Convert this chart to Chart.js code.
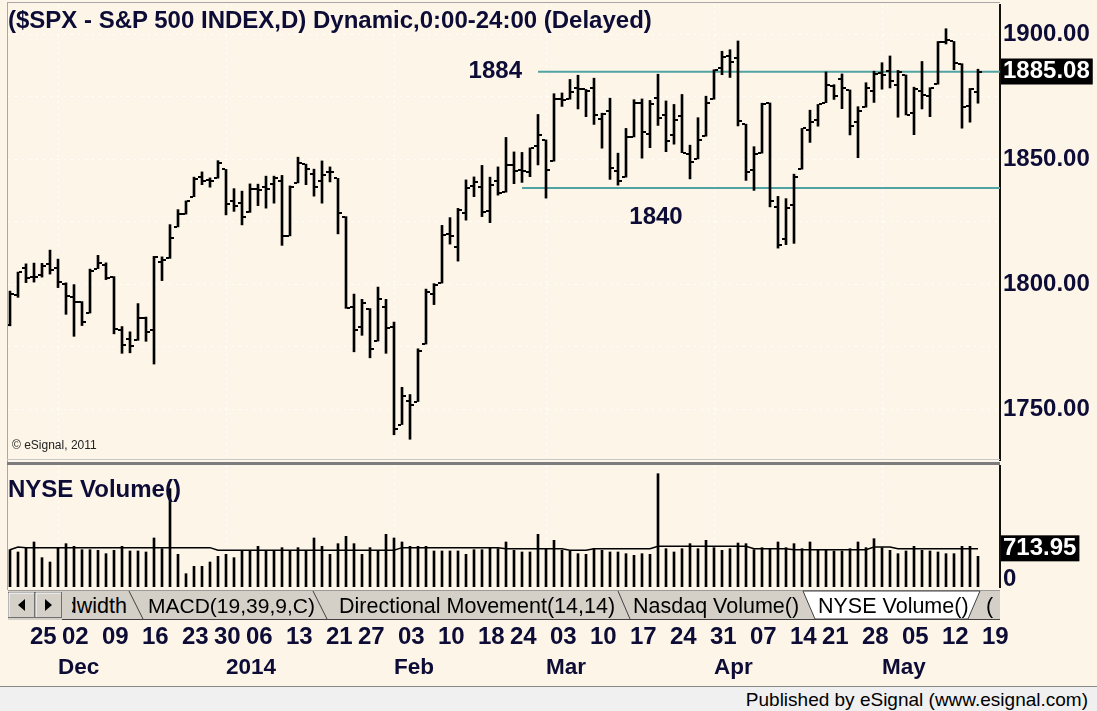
<!DOCTYPE html>
<html>
<head>
<meta charset="utf-8">
<title>$SPX - S&amp;P 500 INDEX daily</title>
<script src="https://cdn.jsdelivr.net/npm/chart.js@4.4.0/dist/chart.umd.min.js"></script>
<style>
  html, body { margin:0; padding:0; }
  body { width:1097px; height:711px; position:relative; overflow:hidden; background:#FDF6E8; font-family:"Liberation Sans", Arial, sans-serif; }
  canvas { position:absolute; left:0; }
  #priceCanvas { top:0; }
  #volCanvas { top:465px; }
  .txt { position:absolute; white-space:nowrap; color:#0c0c36; }
  #title { left:8px; top:6px; font-weight:bold; font-size:24px; }
  #copy { left:12px; top:438px; font-size:12px; color:#222; }
  #volTitle { left:8px; top:475px; font-weight:bold; font-size:24px; }
  #frameL { position:absolute; left:7px; top:2px; width:1px; height:588px; background:#a8a8a8; }
  #frameT { position:absolute; left:7px; top:2px; width:993px; height:1px; background:#a8a8a8; }
  #sepA { position:absolute; left:7px; top:459px; width:993px; height:1px; background:#c8c8c8; }
  #sepB { position:absolute; left:7px; top:462px; width:993px; height:3px; background:#7c7c7c; }
  #tabs { position:absolute; left:0; top:589px; }
  #footer { position:absolute; left:0; top:686px; width:1097px; height:25px; background:#F0F0F0; border-top:1px solid #8a8a8a; }
  #footer span { position:absolute; right:9px; top:2px; font-size:19px; color:#000; }
</style>
</head>
<body>
<canvas id="priceCanvas" width="1097" height="465"></canvas>
<canvas id="volCanvas" width="1097" height="221"></canvas>
<div id="frameL"></div><div id="frameT"></div><div id="sepA"></div><div id="sepB"></div>
<div class="txt" id="title">($SPX - S&amp;P 500 INDEX,D) Dynamic,0:00-24:00 (Delayed)</div>
<div class="txt" id="copy">© eSignal, 2011</div>
<div class="txt" id="volTitle">NYSE Volume()</div>
<svg id="tabs" width="1000" height="33" xmlns="http://www.w3.org/2000/svg" font-family="Liberation Sans, Arial, sans-serif">
  <defs>
    <clipPath id="tc"><rect x="8" y="0" width="992" height="33"/></clipPath>
    <clipPath id="tc1"><rect x="72" y="0" width="58" height="33"/></clipPath>
  </defs>
  <g clip-path="url(#tc)">
    <rect x="8" y="2" width="992" height="29" fill="#D4D0C8"/>
    <line x1="8" y1="1.5" x2="1000" y2="1.5" stroke="#9a9a9a"/>
    <line x1="62" y1="30.5" x2="1000" y2="30.5" stroke="#404040"/>
    <rect x="8.5" y="3.5" width="26" height="25" fill="#D4D0C8" stroke="#707070"/>
    <polyline points="9,28 9,4 34,4" fill="none" stroke="#fff"/>
    <polygon points="25,10 25,22 18,16" fill="#000"/>
    <rect x="35.5" y="3.5" width="26" height="25" fill="#D4D0C8" stroke="#707070"/>
    <polyline points="36,28 36,4 61,4" fill="none" stroke="#fff"/>
    <polygon points="45,10 45,22 52,16" fill="#000"/>
    <text x="127" y="24" font-size="21.5" fill="#000" text-anchor="end" clip-path="url(#tc1)">Bandwidth</text>
    <line x1="129" y1="2" x2="143" y2="30" stroke="#404040"/>
    <text x="148" y="24" font-size="21" fill="#000">MACD(19,39,9,C)</text>
    <line x1="313" y1="2" x2="327" y2="30" stroke="#404040"/>
    <text x="339" y="24" font-size="21.5" fill="#000">Directional Movement(14,14)</text>
    <line x1="618" y1="2" x2="630" y2="30" stroke="#404040"/>
    <text x="633" y="24" font-size="21.5" fill="#000">Nasdaq Volume()</text>
    <polygon points="803,2 815,30 968,30 980,2" fill="#fff" stroke="#404040"/>
    <text x="818" y="24" font-size="21.5" fill="#000">NYSE Volume()</text>
    <text x="986" y="24" font-size="21.5" fill="#000">(</text>
  </g>
</svg>
<div id="footer"><span>Published by eSignal (www.esignal.com)</span></div>
<script>
// ---------------- data ----------------
const dates = [
 '2013-11-21','2013-11-22','2013-11-25','2013-11-26','2013-11-27','2013-11-29',
 '2013-12-02','2013-12-03','2013-12-04','2013-12-05','2013-12-06',
 '2013-12-09','2013-12-10','2013-12-11','2013-12-12','2013-12-13',
 '2013-12-16','2013-12-17','2013-12-18','2013-12-19','2013-12-20',
 '2013-12-23','2013-12-24','2013-12-26','2013-12-27','2013-12-30','2013-12-31',
 '2014-01-02','2014-01-03','2014-01-06','2014-01-07','2014-01-08','2014-01-09','2014-01-10',
 '2014-01-13','2014-01-14','2014-01-15','2014-01-16','2014-01-17',
 '2014-01-21','2014-01-22','2014-01-23','2014-01-24',
 '2014-01-27','2014-01-28','2014-01-29','2014-01-30','2014-01-31',
 '2014-02-03','2014-02-04','2014-02-05','2014-02-06','2014-02-07',
 '2014-02-10','2014-02-11','2014-02-12','2014-02-13','2014-02-14',
 '2014-02-18','2014-02-19','2014-02-20','2014-02-21',
 '2014-02-24','2014-02-25','2014-02-26','2014-02-27','2014-02-28',
 '2014-03-03','2014-03-04','2014-03-05','2014-03-06','2014-03-07',
 '2014-03-10','2014-03-11','2014-03-12','2014-03-13','2014-03-14',
 '2014-03-17','2014-03-18','2014-03-19','2014-03-20','2014-03-21',
 '2014-03-24','2014-03-25','2014-03-26','2014-03-27','2014-03-28',
 '2014-03-31','2014-04-01','2014-04-02','2014-04-03','2014-04-04',
 '2014-04-07','2014-04-08','2014-04-09','2014-04-10','2014-04-11',
 '2014-04-14','2014-04-15','2014-04-16','2014-04-17',
 '2014-04-21','2014-04-22','2014-04-23','2014-04-24','2014-04-25',
 '2014-04-28','2014-04-29','2014-04-30','2014-05-01','2014-05-02',
 '2014-05-05','2014-05-06','2014-05-07','2014-05-08','2014-05-09',
 '2014-05-12','2014-05-13','2014-05-14','2014-05-15','2014-05-16',
 '2014-05-19'
];
const openP = [1783.5,1795.7,1806.3,1802.9,1803.5,1808.1,1806.6,1800.1,1794.8,1792.8,1788.4,1806.2,1807.5,1802.8,1781.7,1778.0,1777.5,1786.5,1781.5,1809.0,1810.4,1822.9,1828.0,1835.0,1843.0,1841.5,1842.6,1845.9,1833.2,1832.3,1828.7,1837.9,1839.0,1840.1,1841.3,1819.3,1840.5,1848.0,1844.2,1841.1,1844.7,1842.3,1827.0,1791.0,1783.0,1790.2,1777.2,1790.9,1782.7,1743.8,1753.4,1753.0,1776.0,1796.2,1800.5,1820.1,1814.8,1828.5,1839.3,1838.9,1829.2,1841.1,1836.8,1847.7,1845.8,1844.9,1855.1,1857.7,1849.2,1874.1,1874.2,1878.5,1877.9,1878.3,1866.2,1869.1,1845.1,1842.8,1858.9,1872.3,1860.1,1874.5,1867.7,1859.5,1867.1,1852.1,1850.1,1859.2,1874.0,1886.6,1891.4,1890.3,1863.9,1845.5,1852.6,1872.3,1830.7,1818.2,1831.5,1846.0,1861.7,1865.8,1872.6,1879.3,1882.0,1877.7,1865.0,1870.8,1877.1,1884.4,1885.3,1879.5,1883.7,1868.5,1877.4,1875.3,1880.0,1896.8,1897.1,1888.2,1871.2,1876.7];
const highP = [1797.2,1804.8,1808.1,1808.4,1808.3,1813.6,1810.0,1800.5,1799.8,1793.0,1806.0,1811.5,1808.5,1803.0,1783.0,1780.9,1792.2,1786.8,1811.1,1810.9,1823.8,1829.8,1833.3,1842.8,1844.9,1842.5,1849.4,1845.9,1838.2,1837.2,1840.1,1840.0,1843.2,1843.2,1843.5,1839.3,1850.8,1848.0,1846.0,1849.3,1846.9,1842.3,1827.0,1796.0,1793.9,1790.2,1798.8,1793.9,1784.8,1758.7,1755.8,1774.1,1798.0,1800.2,1823.5,1826.6,1830.3,1841.7,1842.9,1847.5,1842.8,1846.9,1858.7,1852.9,1852.7,1854.5,1867.9,1857.7,1876.2,1876.5,1881.9,1883.6,1877.9,1882.4,1868.4,1874.4,1852.4,1862.3,1873.8,1874.1,1873.5,1884.0,1873.3,1871.9,1875.9,1855.6,1866.6,1875.2,1885.8,1893.2,1893.8,1897.3,1864.0,1855.0,1872.4,1872.5,1835.1,1834.2,1844.0,1862.3,1869.6,1871.9,1884.9,1879.8,1884.1,1877.7,1871.0,1880.6,1885.2,1888.6,1891.3,1885.5,1883.7,1878.8,1889.1,1878.6,1897.1,1902.2,1897.1,1888.2,1878.3,1886.0];
const lowP = [1783.3,1794.7,1800.6,1800.8,1802.8,1804.0,1798.6,1787.9,1779.1,1783.4,1788.4,1806.2,1801.8,1780.1,1772.3,1772.5,1777.5,1777.1,1768.0,1801.4,1810.3,1822.9,1828.0,1835.0,1839.8,1838.8,1842.4,1827.7,1829.1,1823.7,1828.7,1831.4,1830.4,1832.4,1815.5,1819.3,1840.5,1839.8,1835.2,1832.4,1840.9,1820.1,1790.3,1772.9,1779.5,1770.5,1777.2,1772.3,1739.7,1743.8,1737.9,1753.0,1776.0,1791.8,1800.4,1816.0,1809.2,1825.6,1835.0,1827.0,1824.6,1835.6,1836.8,1840.2,1840.7,1843.0,1847.7,1834.4,1849.2,1871.1,1874.0,1870.1,1867.0,1863.9,1854.4,1841.9,1839.6,1842.8,1858.9,1850.4,1854.6,1863.5,1853.0,1856.0,1852.6,1842.1,1850.1,1859.2,1874.0,1883.8,1882.7,1863.3,1841.5,1837.5,1852.4,1830.9,1814.4,1815.8,1816.3,1846.0,1856.7,1863.2,1872.6,1873.9,1870.2,1859.7,1850.6,1870.8,1872.7,1878.0,1878.5,1866.8,1867.7,1859.8,1870.1,1867.0,1880.0,1896.1,1885.8,1862.4,1864.8,1872.4];
const closeP = [1795.9,1804.8,1802.5,1802.8,1807.2,1805.8,1800.9,1795.2,1792.8,1785.0,1805.1,1808.4,1802.6,1782.2,1775.5,1775.3,1786.5,1781.0,1810.7,1809.6,1818.3,1828.0,1833.3,1842.0,1841.4,1841.1,1848.4,1832.0,1831.4,1826.8,1837.9,1837.5,1838.1,1842.4,1819.2,1838.9,1848.4,1845.9,1838.7,1843.8,1844.9,1828.5,1790.3,1781.6,1792.5,1774.2,1794.2,1782.6,1741.9,1755.2,1751.6,1773.4,1797.0,1799.8,1819.8,1819.3,1829.8,1838.6,1840.8,1828.8,1839.8,1836.3,1847.6,1845.1,1845.2,1854.3,1859.5,1845.7,1873.9,1873.8,1877.0,1878.0,1877.2,1867.6,1868.2,1846.3,1841.1,1858.8,1872.3,1860.8,1872.0,1866.5,1857.4,1865.6,1852.6,1849.0,1857.6,1872.3,1885.5,1890.9,1888.8,1865.1,1845.0,1852.0,1872.2,1833.1,1815.7,1830.6,1843.0,1862.3,1864.9,1871.9,1879.6,1875.4,1878.6,1863.4,1869.4,1878.3,1884.0,1883.7,1881.1,1884.7,1867.7,1878.2,1875.6,1878.5,1896.7,1897.5,1888.5,1870.9,1877.9,1885.08];
const volume = [869,815,916,1048,683,582,916,1009,947,869,869,854,776,854,947,838,838,815,1141,892,2289,760,310,481,481,582,714,760,683,854,854,947,838,838,916,838,916,854,1141,947,760,1009,1180,1009,760,916,854,1226,1141,1048,947,947,947,838,838,838,838,760,869,869,916,892,
 1048,854,815,815,1226,892,1086,854,838,776,760,892,854,815,815,776,737,776,760,2638,892,815,892,1009,892,1086,916,854,892,1024,1009,869,916,892,1048,916,1009,892,1048,854,854,838,838,892,1048,916,1125,916,854,776,838,947,854,838,815,776,776,947,947,713.95];
const volumeAvg = [869,931,916,916,916,916,916,916,916,916,916,916,916,916,916,916,916,916,916,916,916,916,916,916,916,916,854,854,854,854,854,854,854,854,854,854,854,854,854,854,854,854,854,854,854,854,854,854,854,916,916,916,916,916,916,916,916,916,916,916,916,916,
 892,892,892,892,892,892,892,892,854,854,854,892,892,892,892,892,892,892,892,947,947,947,947,947,947,947,947,947,947,947,947,892,892,892,892,892,869,869,869,869,869,869,869,869,869,869,931,931,931,892,892,892,892,892,892,892,892,892,892,892];
const priceGrid = [1750,1775,1800,1825,1850,1875,1900];
const priceLabelStep = 50;
const dayTickDates = ['2013-11-25','2013-12-02','2013-12-09','2013-12-16','2013-12-23','2013-12-30','2014-01-06','2014-01-13','2014-01-21','2014-01-27','2014-02-03','2014-02-10','2014-02-18','2014-02-24','2014-03-03','2014-03-10','2014-03-17','2014-03-24','2014-03-31','2014-04-07','2014-04-14','2014-04-21','2014-04-28','2014-05-05','2014-05-12','2014-05-19'];
const dayTickLabels = ['25','02','09','16','23','30','06','13','21','27','03','10','18','24','03','10','17','24','31','07','14','21','28','05','12','19'];
const monthTickDates = ['2013-12-02','2014-01-02','2014-02-03','2014-03-03','2014-04-01','2014-05-01'];
const monthTickLabels = ['Dec','2014','Feb','Mar','Apr','May'];
const levelLabels = ['1884','1840'];
const levelValues = [1885.0, 1838.5];
const levelStartDates = ['2014-02-28','2014-02-26'];

// ---------------- helpers ----------------
const NAVY = '#0c0c36';
const GRID = 'rgba(255,255,255,0.95)';
const CLEAR = 'rgba(0,0,0,0)';
const FONT = 'Liberation Sans';
const idx = dates.map((d, i) => i);
const lastClose = closeP[closeP.length - 1];
const lastVol = volume[volume.length - 1];
const xMin = -0.25, xMax = 123.75;
const dayTickIdx = dayTickDates.map(d => dates.indexOf(d));
const monthTickIdx = monthTickDates.map(d => dates.indexOf(d));
function tickImg(side) {
  const c = document.createElement('canvas');
  c.width = 10; c.height = 2;
  const g = c.getContext('2d');
  g.fillStyle = '#000';
  if (side === 'open') g.fillRect(1, 0, 3, 2); else g.fillRect(6, 0, 3, 2);
  return c;
}
const fixY = s => { s.width = 97; s.paddingTop = 0; s.paddingBottom = 0; };

const levelText = {
  id: 'levelText',
  afterDatasetsDraw(chart) {
    const {ctx, scales: {x, y}} = chart;
    ctx.save();
    ctx.font = 'bold 24px "' + FONT + '"';
    ctx.fillStyle = NAVY;
    ctx.textBaseline = 'middle';
    ctx.textAlign = 'right';
    ctx.fillText(levelLabels[0], x.getPixelForValue(dates.indexOf(levelStartDates[0])) - 16, y.getPixelForValue(levelValues[0]));
    ctx.textAlign = 'center';
    ctx.fillText(levelLabels[1], x.getPixelForValue(dates.indexOf(levelStartDates[1])) + 134, y.getPixelForValue(levelValues[1]) + 29);
    ctx.restore();
  }
};

// ---------------- price chart ----------------
new Chart(document.getElementById('priceCanvas'), {
  type: 'bar',
  data: {
    datasets: [
      { type: 'bar', data: idx.map(i => ({x: i, y: [lowP[i], highP[i]]})), backgroundColor: '#000', barThickness: 2, order: 3 },
      { type: 'line', data: idx.map(i => ({x: i, y: openP[i]})), showLine: false, pointStyle: tickImg('open'), pointRadius: 3, order: 2 },
      { type: 'line', data: idx.map(i => ({x: i, y: closeP[i]})), showLine: false, pointStyle: tickImg('close'), pointRadius: 3, order: 2 },
      ...levelValues.map((v, k) => ({ type: 'line', data: [{x: dates.indexOf(levelStartDates[k]), y: v}, {x: xMax, y: v}], borderColor: '#4fa3a3', borderWidth: 2, pointRadius: 0, order: 4 }))
    ]
  },
  options: {
    responsive: false, animation: false, events: [],
    layout: { padding: { left: 8, top: 3, right: 0, bottom: 3 } },
    plugins: { legend: { display: false }, tooltip: { enabled: false } },
    scales: {
      x: {
        type: 'linear', min: xMin, max: xMax, offset: false,
        grid: { offset: false, color: GRID, drawTicks: false, lineWidth: 1 },
        border: { display: false, dash: [2, 4] },
        ticks: { display: false },
        afterBuildTicks: s => { s.ticks = monthTickIdx.map(v => ({value: v})); }
      },
      y: {
        type: 'linear', position: 'right', min: 1729.6, max: 1911.7,
        grid: { color: c => (c.tick && c.tick.value === lastClose) ? CLEAR : GRID, drawTicks: false, lineWidth: 1 },
        border: { display: true, color: '#111', width: 2, dash: [2, 5] },
        ticks: {
          padding: 3,
          font: { family: FONT, size: 24, weight: 'bold', lineHeight: 1 },
          color: c => (c.tick && c.tick.value === lastClose) ? '#fff' : NAVY,
          showLabelBackdrop: c => !!(c.tick && c.tick.value === lastClose),
          backdropColor: '#000',
          backdropPadding: { left: 2, right: 3, top: 1, bottom: 1 },
          callback: v => (v === lastClose) ? lastClose.toFixed(2) : (v % priceLabelStep === 0 ? v.toFixed(2) : '')
        },
        afterBuildTicks: s => { s.ticks = priceGrid.concat([lastClose]).map(v => ({value: v})); },
        afterFit: fixY
      }
    }
  },
  plugins: [levelText]
});

// ---------------- volume chart (with the date axes below) ----------------
new Chart(document.getElementById('volCanvas'), {
  type: 'bar',
  data: {
    datasets: [
      { type: 'bar', data: idx.map(i => ({x: i, y: volume[i]})), backgroundColor: '#000', barThickness: 2, order: 2 },
      { type: 'line', data: idx.map(i => ({x: i, y: volumeAvg[i]})), borderColor: '#000', borderWidth: 1.5, pointRadius: 0, tension: 0, order: 1 }
    ]
  },
  options: {
    responsive: false, animation: false, events: [],
    layout: { padding: { left: 8, top: 0, right: 0, bottom: 0 } },
    plugins: { legend: { display: false }, tooltip: { enabled: false } },
    scales: {
      x: {
        type: 'linear', min: xMin, max: xMax, offset: false, position: 'bottom', weight: 0,
        grid: { display: false, drawTicks: false, offset: false },
        border: { display: false },
        ticks: {
          autoSkip: false, maxRotation: 0, minRotation: 0, align: 'start', padding: 38, labelOffset: 4,
          font: { family: FONT, size: 24, weight: 'bold', lineHeight: 1 },
          color: NAVY,
          callback: v => { const k = dayTickIdx.indexOf(v); return k >= 0 ? dayTickLabels[k] : ''; }
        },
        afterBuildTicks: s => { s.ticks = dayTickIdx.map(v => ({value: v})); },
        afterFit: s => { s.height = 61; s.paddingLeft = 0; s.paddingRight = 0; }
      },
      xMonth: {
        type: 'linear', min: xMin, max: xMax, offset: false, position: 'bottom', weight: 1,
        grid: { offset: false, color: GRID, drawTicks: false, lineWidth: 1 },
        border: { display: false, dash: [2, 4] },
        ticks: {
          autoSkip: false, maxRotation: 0, minRotation: 0, align: 'start', padding: 8.5,
          font: { family: FONT, size: 22.5, weight: 'bold', lineHeight: 1 },
          color: NAVY,
          callback: v => { const k = monthTickIdx.indexOf(v); return k >= 0 ? monthTickLabels[k] : ''; }
        },
        afterBuildTicks: s => { s.ticks = monthTickIdx.map(v => ({value: v})); },
        afterFit: s => { s.height = 38; s.paddingLeft = 0; s.paddingRight = 0; }
      },
      y: {
        type: 'linear', position: 'right', min: 0, max: 2840,
        grid: { display: false, drawTicks: false },
        border: { display: true, color: '#111', width: 2 },
        ticks: {
          padding: 3, labelOffset: -8,
          font: { family: FONT, size: 24, weight: 'bold', lineHeight: 1 },
          color: c => (c.tick && c.tick.value === lastVol) ? '#fff' : NAVY,
          showLabelBackdrop: c => !!(c.tick && c.tick.value === lastVol),
          backdropColor: '#000',
          backdropPadding: { left: 2, right: 3, top: 1, bottom: 1 },
          callback: v => (v === lastVol) ? lastVol.toFixed(2) : String(v)
        },
        afterBuildTicks: s => { s.ticks = [0, lastVol].map(v => ({value: v})); },
        afterFit: fixY
      }
    }
  }
});
</script>
</body>
</html>
